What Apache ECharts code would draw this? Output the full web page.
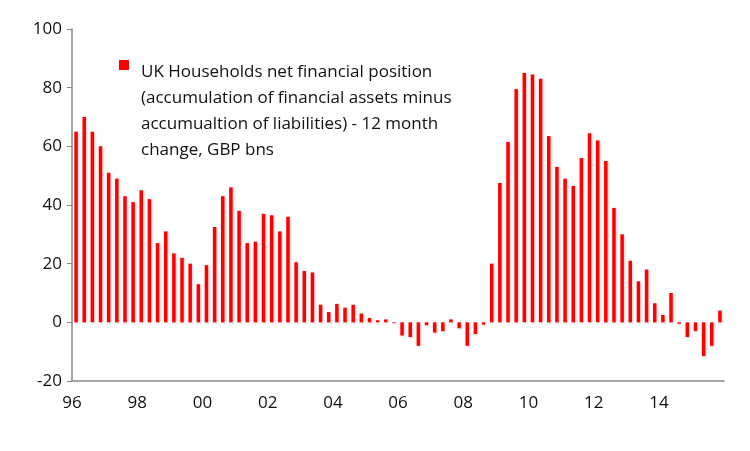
<!DOCTYPE html>
<html><head><meta charset="utf-8">
<script src="https://cdn.jsdelivr.net/npm/echarts@6/dist/echarts.min.js"></script>
<style>html,body{margin:0;padding:0;background:#fff}#c{width:750px;height:451px}</style>
</head><body><div id="c"></div>
<script>
const years = ['96','97','98','99','00','01','02','03','04','05','06','07','08','09','10','11','12','13','14','15'];
const categories = [];
years.forEach(y => { for (let q = 1; q <= 4; q++) categories.push(y + ' Q' + q); });
const tickLabels = ['96','98','00','02','04','06','08','10','12','14'];
const seriesName = 'UK Households net financial position\n(accumulation of financial assets minus\naccumualtion of liabilities) - 12 month\nchange, GBP bns';
const values = [
  65,70,65,60,51,49,43,41,45,42,
  27,31,23.5,22,20,13,19.5,32.5,43,46,
  38,27,27.5,37,36.5,31,36,20.5,17.5,17,
  6,3.5,6.3,5,6,3,1.5,0.7,1,-0.3,
  -4.5,-5,-8,-1,-3.5,-3,1,-2,-8,-4,
  -0.8,20,47.5,61.5,79.5,85,84.5,83,63.5,53,
  49,46.5,56,64.5,62,55,39,30,21,14,
  18,6.5,2.5,10,-0.5,-5,-3,-11.5,-8,4
];
const font = 'Open Sans';
const chart = echarts.init(document.getElementById('c'));
chart.setOption({
  animation: false,
  textStyle: { fontFamily: font },
  grid: { left: 72, right: 26, top: 29, bottom: 70 },
  legend: {
    left: 120, top: 54, itemWidth: 11, itemHeight: 11, icon: 'none',
    data: [seriesName],
    textStyle: { fontSize: 17, color: '#111', lineHeight: 26, fontFamily: font }
  },
  graphic: [{ type: 'rect', left: 119, top: 60, shape: { width: 10, height: 10 }, style: { fill: '#ff0000' } }],
  xAxis: [{
    type: 'category', data: categories, position: 'bottom',
    axisLine: { show: false }, axisTick: { show: false },
    axisLabel: {
      interval: 7, fontSize: 17, color: '#111', margin: 14, padding: [0, 8, 0, 0],
      formatter: v => v.slice(0, 2)
    }
  }, {
    type: 'category', data: categories, position: 'bottom',
    axisLine: { onZero: true, lineStyle: { color: '#888', width: 1.5 } },
    axisTick: { interval: 7, length: 5, lineStyle: { color: '#888' } },
    axisLabel: { show: false }
  }],
  yAxis: {
    type: 'value', min: -20, max: 100, interval: 20,
    axisLine: { show: true, lineStyle: { color: '#888', width: 1.5 } },
    axisTick: { show: true, length: 5, lineStyle: { color: '#888' } },
    splitLine: { show: false },
    axisLabel: { fontSize: 17, color: '#111', margin: 10 }
  },
  series: [{
    name: seriesName, type: 'bar', data: values, barWidth: 3.5, xAxisIndex: 0,
    itemStyle: { color: '#ff0000', shadowColor: 'rgba(0,0,0,0.2)', shadowBlur: 3, shadowOffsetX: 1, shadowOffsetY: 1 }
  }]
});
</script></body></html>
